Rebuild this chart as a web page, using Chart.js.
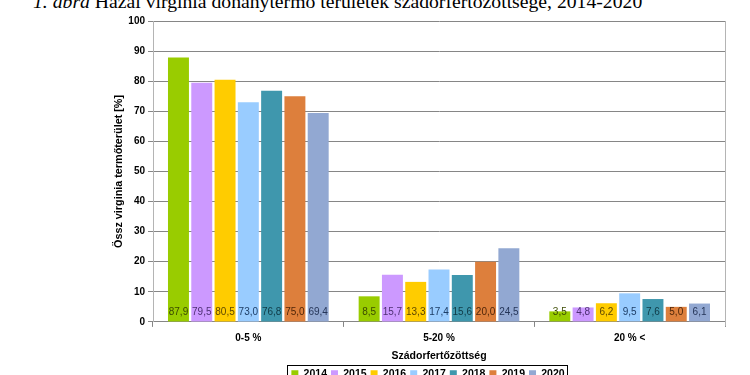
<!DOCTYPE html>
<html><head><meta charset="utf-8">
<script src="https://cdn.jsdelivr.net/npm/chart.js@4.4.1/dist/chart.umd.min.js"></script>
<style>
html,body{margin:0;padding:0;background:#fff;width:750px;height:375px;overflow:hidden;position:relative;}
#title{position:absolute;left:33px;top:-9px;font-family:"Liberation Serif","DejaVu Serif",serif;font-size:19.7px;white-space:nowrap;color:#000;line-height:20px;}
#wrap{position:absolute;left:0;top:0;width:750px;height:389px;}
</style></head>
<body>
<div id="title"><i>1. ábra</i> Hazai virginia dohánytermő területek szádorfertőzöttsége, 2014-2020</div>
<div id="wrap"><canvas id="c"></canvas></div>
<script>
const categories = ['0-5 %', '5-20 %', '20 % <'];
const years = ['2014', '2015', '2016', '2017', '2018', '2019', '2020'];
const v2014 = [87.9, 8.5, 3.5];
const v2015 = [79.5, 15.7, 4.8];
const v2016 = [80.5, 13.3, 6.2];
const v2017 = [73.0, 17.4, 9.5];
const v2018 = [76.8, 15.6, 7.6];
const v2019 = [75.0, 20.0, 5.0];
const v2020 = [69.4, 24.5, 6.1];
const yTicks = [0, 10, 20, 30, 40, 50, 60, 70, 80, 90, 100];

const fills = ['#99cc00', '#cc99ff', '#ffcc00', '#99ccff', '#3f97ad', '#dd7f3c', '#92a8d2'];
const labelColors = ['#3b4a00', '#4d2f73', '#5e4700', '#1d3d66', '#0f3a46', '#4f2508', '#263659'];
const series = [v2014, v2015, v2016, v2017, v2018, v2019, v2020];

const datasets = series.map((d, i) => ({
  label: years[i], data: d, backgroundColor: fills[i], borderWidth: 0,
  categoryPercentage: 0.855, barPercentage: 0.9
}));

const valueLabels = {
  id: 'valueLabels',
  afterDatasetsDraw(chart) {
    const ctx = chart.ctx;
    const y0 = chart.scales.y.getPixelForValue(0);
    ctx.save();
    ctx.font = '10px "Liberation Sans", Arial, sans-serif';
    ctx.textAlign = 'center';
    ctx.textBaseline = 'middle';
    chart.data.datasets.forEach((ds, i) => {
      chart.getDatasetMeta(i).data.forEach((el, j) => {
        ctx.fillStyle = labelColors[i];
        ctx.fillText(ds.data[j].toFixed(1).replace('.', ','), el.x, y0 - 10);
      });
    });
    ctx.restore();
  }
};

const frame = {
  id: 'frame',
  afterDraw(chart) {
    const a = chart.chartArea, ctx = chart.ctx;
    ctx.save();
    ctx.strokeStyle = '#b4b4b4';
    ctx.lineWidth = 1;
    ctx.beginPath();
    ctx.moveTo(Math.round(a.right) + 0.5, a.top);
    ctx.lineTo(Math.round(a.right) + 0.5, a.bottom + 4);
    ctx.stroke();
    const lg = chart.legend;
    const first = lg.legendHitBoxes[0], last = lg.legendHitBoxes[lg.legendHitBoxes.length - 1];
    ctx.strokeStyle = '#000';
    ctx.strokeRect(Math.round(first.left) - 3.5, Math.round(first.top) - 3.5,
      Math.round(last.left + last.width - first.left) + 7, 30);
    ctx.restore();
  }
};

new Chart(document.getElementById('c'), {
  type: 'bar',
  data: { labels: categories, datasets },
  options: {
    responsive: true, maintainAspectRatio: false, animation: false,
    layout: { padding: { left: 106, right: 0, top: 21, bottom: 0 } },
    plugins: {
      tooltip: { enabled: false },
      legend: {
        position: 'bottom',
        labels: {
          boxWidth: 7, boxHeight: 7, padding: 4,
          color: '#000',
          font: { family: '"Liberation Sans", Arial, sans-serif', size: 10.5, weight: 'bold' }
        }
      }
    },
    scales: {
      x: {
        grid: { offset: true, drawOnChartArea: false, drawTicks: true, tickLength: 5, color: '#868686' },
        border: { color: '#868686' },
        ticks: { color: '#000', padding: 5, font: { family: '"Liberation Sans", Arial, sans-serif', size: 10, weight: 'bold' } },
        title: { display: true, text: 'Szádorfertőzöttség', color: '#000', padding: { top: 1, bottom: 2 },
          font: { family: '"Liberation Sans", Arial, sans-serif', size: 10.5, weight: 'bold' } }
      },
      y: {
        min: 0, max: 100,
        afterBuildTicks(s) { s.ticks = yTicks.map(v => ({ value: v })); },
        afterFit(s) { s.width = 47; },
        grid: { color: '#868686', tickLength: 5 },
        border: { color: '#b4b4b4' },
        ticks: { color: '#000', padding: 3, font: { family: '"Liberation Sans", Arial, sans-serif', size: 10, weight: 'bold' } },
        title: { display: true, text: 'Össz virginia termőterület [%]', color: '#000', padding: { top: 7, bottom: 0 },
          font: { family: '"Liberation Sans", Arial, sans-serif', size: 10.8, weight: 'bold' } }
      },
      y2: {
        position: 'right',
        display: true,
        grid: { display: false, drawTicks: false },
        border: { display: false },
        ticks: { display: false },
        afterFit(s) { s.width = 25; }
      }
    }
  },
  plugins: [valueLabels, frame]
});
</script>
</body></html>
